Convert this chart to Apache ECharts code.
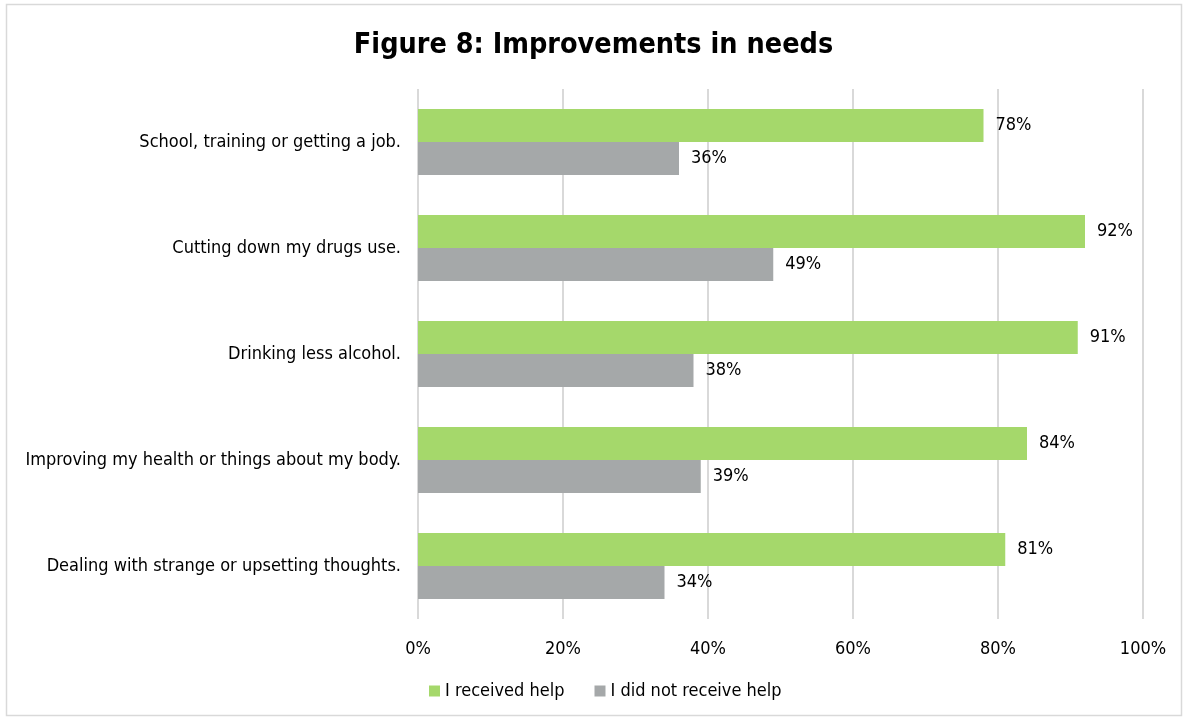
<!DOCTYPE html>
<html><head><meta charset="utf-8">
<script src="https://cdn.jsdelivr.net/npm/echarts@6/dist/echarts.min.js"></script>
<style>html,body{margin:0;padding:0;background:#fff}#c{width:1187px;height:722px}</style>
</head><body><div id="c"></div>
<script>
const categories = ["School, training or getting a job.","Cutting down my drugs use.","Drinking less alcohol.","Improving my health or things about my body.","Dealing with strange or upsetting thoughts."];
const receivedHelp = [78, 92, 91, 84, 81];
const notReceivedHelp = [36, 49, 38, 39, 34];
const seriesNames = ["I received help", "I did not receive help"];
const FONT = "'DejaVu Sans Condensed', 'DejaVu Sans', sans-serif";
const chart = echarts.init(document.getElementById('c'));
const labelOpt = {show:true, position:'right', distance:12, formatter:'{c}%', color:'#000', fontFamily:FONT, fontSize:18};
chart.setOption({
  animation:false,
  title:{text:'Figure 8: Improvements in needs', left:'center', top:26, textStyle:{fontFamily:FONT, fontWeight:'bold', fontSize:28.5, color:'#000'}},
  graphic:[{type:'rect', shape:{x:6.5,y:4.5,width:1175,height:711}, style:{fill:'none', stroke:'#D9D9D9', lineWidth:1.5}, silent:true, z:-1}],
  legend:{bottom:17, left:424, itemWidth:11, itemHeight:11, itemGap:30, icon:'rect', textStyle:{fontFamily:FONT, fontSize:18, color:'#000'}, data:seriesNames},
  grid:{left:418, right:44, top:89, bottom:103, containLabel:false},
  xAxis:{type:'value', min:0, max:100, interval:20, axisLabel:{formatter:'{value}%', fontFamily:FONT, fontSize:18, color:'#000', margin:21}, splitLine:{lineStyle:{color:'#D9D9D9', width:2}}, axisLine:{show:false}, axisTick:{show:false}},
  yAxis:{type:'category', data:categories, inverse:true, axisLabel:{fontFamily:FONT, fontSize:18, color:'#000', margin:17}, axisLine:{show:false}, axisTick:{show:false}},
  series:[
    {name:seriesNames[0], type:'bar', data:receivedHelp, barWidth:33, barGap:'0%', itemStyle:{color:'#A5D86B'}, label:labelOpt},
    {name:seriesNames[1], type:'bar', data:notReceivedHelp, barWidth:33, barGap:'0%', itemStyle:{color:'#A5A8A9'}, label:labelOpt}
  ]
});
</script></body></html>
